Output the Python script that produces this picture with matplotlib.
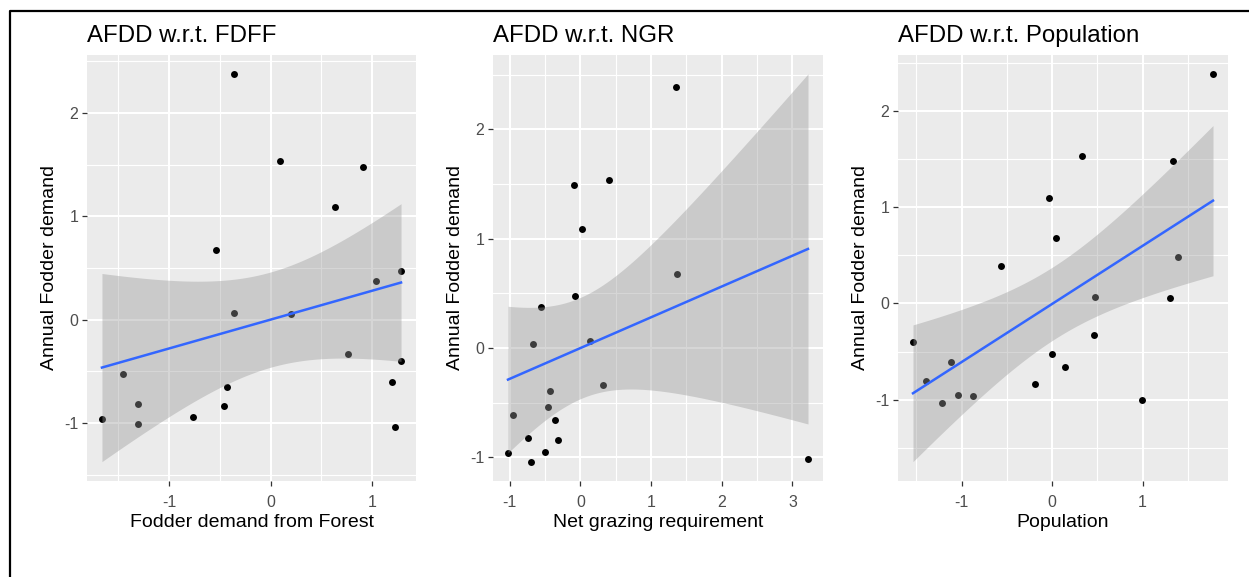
import numpy as np
import matplotlib.pyplot as plt
from matplotlib.ticker import MultipleLocator
from matplotlib.lines import Line2D

plt.rcParams['font.family'] = ['Liberation Sans', 'DejaVu Sans']
plt.rcParams['axes.unicode_minus'] = False

# standardised values
fdff_x = [-1.66, -1.454, -1.31, -1.31, -0.765, -0.533, -0.363, -0.363, -0.428, -0.454,
          0.092, 0.196, 0.634, 0.765, 0.908, 1.036, 1.284, 1.284, 1.193, 1.229]
fdff_y = [-0.96, -0.527, -0.82, -1.01, -0.943, 0.676, 2.377, 0.064, -0.655, -0.833,
          1.534, 0.05, 1.085, -0.335, 1.48, 0.37, 0.473, -0.40, -0.60, -1.036]

ngr_x = [-1.025, -0.95, -0.748, -0.705, -0.672, -0.56, -0.503, -0.465, -0.428, -0.357,
         -0.315, -0.094, -0.075, 0.024, 0.132, 0.315, 0.40, 1.349, 1.368, 3.22]
ngr_y = [-0.965, -0.616, -0.82, -1.04, 0.037, 0.377, -0.952, -0.54, -0.397, -0.663,
         -0.844, 1.487, 0.474, 1.09, 0.064, -0.336, 1.537, 2.39, 0.68, -1.012]

pop_x = [-1.537, -1.393, -1.213, -1.114, -1.04, -0.879, -0.559, -0.191, -0.033, 0.0,
         0.04, 0.143, 0.331, 0.463, 0.478, 0.989, 1.309, 1.338, 1.397, 1.779]
pop_y = [-0.397, -0.81, -1.032, -0.604, -0.948, -0.963, 0.386, -0.837, 1.097, -0.523,
         0.684, -0.657, 1.536, -0.329, 0.069, -1.001, 0.057, 1.483, 0.481, 2.388]

titles = ['AFDD w.r.t. FDFF', 'AFDD w.r.t. NGR', 'AFDD w.r.t. Population']
xlabels = ['Fodder demand from Forest', 'Net grazing requirement', 'Population']
ylabel = 'Annual Fodder demand'
T_CRIT = 2.1009  # t(0.975, df=18)

W, H = 1249, 577
fig = plt.figure(figsize=(W / 100, H / 100), dpi=100)

# panel boxes in pixels: left, right (top/bottom shared)
boxes = [(87, 416), (493, 823), (898, 1228)]
top, bottom = 54.5, 481

panels = [(fdff_x, fdff_y), (ngr_x, ngr_y), (pop_x, pop_y)]

for i, (xs, ys) in enumerate(panels):
    l, r = boxes[i]
    ax = fig.add_axes([l / W, 1 - bottom / H, (r - l) / W, (bottom - top) / H])
    ax.set_facecolor('#EBEBEB')
    for s in ax.spines.values():
        s.set_visible(False)

    x = np.array(xs)
    y = np.array(ys)
    ax.scatter(x, y, s=25, color='black', linewidths=0, zorder=2)

    # lm smooth with 95% band
    b, a = np.polyfit(x, y, 1)
    n = len(x)
    resid = y - (a + b * x)
    s_err = np.sqrt(np.sum(resid ** 2) / (n - 2))
    sxx = np.sum((x - x.mean()) ** 2)
    xg = np.linspace(x.min(), x.max(), 80)
    yg = a + b * xg
    se = s_err * np.sqrt(1 / n + (xg - x.mean()) ** 2 / sxx)
    ax.fill_between(xg, yg - T_CRIT * se, yg + T_CRIT * se, color='#999999',
                    alpha=0.4, linewidth=0, zorder=3)
    ax.plot(xg, yg, color='#3366FF', lw=1.8, zorder=4)

    ax.margins(0.05)
    ax.xaxis.set_major_locator(MultipleLocator(1))
    ax.xaxis.set_minor_locator(MultipleLocator(0.5))
    ax.yaxis.set_major_locator(MultipleLocator(1))
    ax.yaxis.set_minor_locator(MultipleLocator(0.5))
    ax.set_axisbelow(True)
    ax.grid(which='major', color='white', lw=1.5)
    ax.grid(which='minor', color='white', lw=0.8)
    ax.tick_params(which='major', length=3.3, width=0.9, color='#333333',
                   labelcolor='#4D4D4D', labelsize=11.5)
    ax.tick_params(axis='x', which='major', pad=6.5)
    ax.tick_params(axis='y', which='major', pad=3)
    ax.tick_params(which='minor', length=0)

    ax.set_title(titles[i], loc='left', fontsize=17.3, pad=9)
    ax.set_xlabel(xlabels[i], fontsize=14, labelpad=3)
    ax.set_ylabel(ylabel, fontsize=14, labelpad=4)

# frame around the picture (runs off the right and bottom edges)
fx = 9.5 / W
fy = 1 - 11 / H
fig.add_artist(Line2D([fx, fx, 1.0], [0.0, fy, fy], transform=fig.transFigure,
                      color='black', lw=1.6))

fig.savefig('out.png', dpi=100)
